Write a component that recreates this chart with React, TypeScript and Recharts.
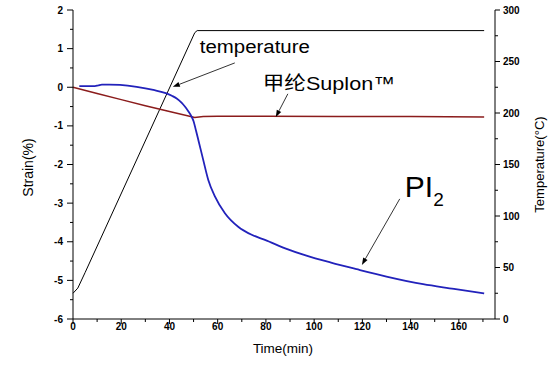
import {
  ComposedChart,
  Line,
  XAxis,
  YAxis,
  ReferenceLine,
  ReferenceDot,
} from "recharts";

// PI2 strain curve (left axis)
const pi2Time = [2.6, 9.1, 10.5, 12, 15, 19.5, 26.4, 33.3, 38.8, 41, 43, 45, 46.4, 47.8, 49, 50, 51, 52, 54, 56.1, 58.9, 63, 68.5, 74.1, 79.6, 88, 96.8, 107, 117.6, 130, 145.2, 158, 170.5];
const pi2Strain = [0.03, 0.03, 0.05, 0.07, 0.07, 0.06, 0.01, -0.07, -0.16, -0.22, -0.29, -0.4, -0.5, -0.62, -0.74, -0.88, -1.12, -1.37, -1.88, -2.4, -2.83, -3.26, -3.61, -3.82, -3.95, -4.17, -4.36, -4.54, -4.71, -4.9, -5.1, -5.22, -5.34];

// Suplon strain curve (left axis)
const suplonTime = [0, 10, 20, 30, 40, 50.5, 54, 60, 80, 110, 140, 170.5];
const suplonStrain = [0, -0.16, -0.32, -0.48, -0.63, -0.78, -0.76, -0.75, -0.75, -0.76, -0.76, -0.77];

// temperature program (right axis)
const tempTime = [0, 2, 5, 50.5, 51.5, 170.5];
const tempValue = [25, 30, 45, 278, 280, 280];

const xTicks = [0, 10, 20, 30, 40, 50, 60, 70, 80, 90, 100, 110, 120, 130, 140, 150, 160, 170];
const strainTicks = [-6, -5.5, -5, -4.5, -4, -3.5, -3, -2.5, -2, -1.5, -1, -0.5, 0, 0.5, 1, 1.5, 2];
const tempTicks = [0, 25, 50, 75, 100, 125, 150, 175, 200, 225, 250, 275, 300];

const pi2Data = pi2Time.map((t, i) => ({ t, s: pi2Strain[i] }));
const suplonData = suplonTime.map((t, i) => ({ t, s: suplonStrain[i] }));
const tempData = tempTime.map((t, i) => ({ t, temp: tempValue[i] }));

const FONT = "'Liberation Sans', Arial, 'Noto Sans CJK SC', sans-serif";

function LeftTick({ x, y, payload }: any) {
  const major = Number.isInteger(payload.value);
  return (
    <g>
      <line x1={x - (major ? 6 : 3)} x2={x} y1={y} y2={y} stroke="#000" />
      {major && (
        <text x={x - 10} y={y + 3.5} textAnchor="end" fontSize={10} fontWeight="bold" fontFamily={FONT}>
          {payload.value}
        </text>
      )}
    </g>
  );
}

function RightTick({ x, y, payload }: any) {
  const major = payload.value % 50 === 0;
  return (
    <g>
      <line x1={x} x2={x + (major ? 5 : 3)} y1={y} y2={y} stroke="#000" />
      {major && (
        <text x={x + 8} y={y + 3.5} textAnchor="start" fontSize={10} fontWeight="bold" fontFamily={FONT}>
          {payload.value}
        </text>
      )}
    </g>
  );
}

function BottomTick({ x, y, payload }: any) {
  const major = payload.value % 20 === 0;
  return (
    <g>
      <line x1={x} x2={x} y1={y} y2={y + (major ? 5 : 3)} stroke="#000" />
      {major && (
        <text x={x} y={y + 11} textAnchor="middle" fontSize={10} fontWeight="bold" fontFamily={FONT}>
          {payload.value}
        </text>
      )}
    </g>
  );
}

function Arrow(props: any) {
  const { x1, y1, x2, y2 } = props;
  const a = Math.atan2(y2 - y1, x2 - x1);
  const len = 7;
  const w = 2.5;
  const bx = x2 - len * Math.cos(a);
  const by = y2 - len * Math.sin(a);
  const px = -Math.sin(a) * w;
  const py = Math.cos(a) * w;
  return (
    <g>
      <line x1={x1} y1={y1} x2={bx} y2={by} stroke="#000" strokeWidth={0.8} />
      <polygon points={`${x2},${y2} ${bx + px},${by + py} ${bx - px},${by - py}`} fill="#000" />
    </g>
  );
}

const textAt = (content: any) => (p: any) => (
  <text x={p.cx} y={p.cy} fontFamily={FONT} fill="#000">
    {content}
  </text>
);

export default function App() {
  return (
    <div style={{ position: "absolute", left: 0, top: 0, width: 549, height: 365, background: "#fff" }}>
      <ComposedChart width={549} height={365} margin={{ top: 10, right: 0, bottom: 0, left: 0 }}>
        <XAxis
          type="number"
          dataKey="t"
          domain={[0, 175]}
          ticks={xTicks}
          interval={0}
          tickSize={0}
          tickMargin={0}
          tick={<BottomTick />}
          tickLine={false}
          axisLine={{ stroke: "#000" }}
          height={46}
          label={{
            content: () => (
              <text x={283} y={353} textAnchor="middle" fontSize={13.5} fontFamily={FONT}>
                Time(min)
              </text>
            ),
          }}
        />
        <XAxis xAxisId="top" orientation="top" type="number" domain={[0, 175]} height={0} tick={false} tickLine={false} axisLine={{ stroke: "#000" }} />
        <YAxis
          yAxisId="left"
          type="number"
          domain={[-6, 2]}
          ticks={strainTicks}
          interval={0}
          tickSize={0}
          tickMargin={0}
          tick={<LeftTick />}
          tickLine={false}
          axisLine={{ stroke: "#000" }}
          width={73}
          label={{
            content: (p: any) => {
              const cy = p.viewBox.y + p.viewBox.height / 2 + 3;
              return (
                <text x={33} y={cy} transform={`rotate(-90 33 ${cy})`} textAnchor="middle" fontSize={14} fontFamily={FONT}>
                  Strain(%)
                </text>
              );
            },
          }}
        />
        <YAxis
          yAxisId="right"
          orientation="right"
          type="number"
          domain={[0, 300]}
          ticks={tempTicks}
          interval={0}
          tickSize={0}
          tickMargin={0}
          tick={<RightTick />}
          tickLine={false}
          axisLine={{ stroke: "#000" }}
          width={54}
          label={{
            content: (p: any) => {
              const cy = p.viewBox.y + p.viewBox.height / 2;
              return (
                <text x={544} y={cy} transform={`rotate(-90 544 ${cy})`} textAnchor="middle" fontSize={13} fontFamily={FONT}>
                  Temperature(°C)
                </text>
              );
            },
          }}
        />
        <Line yAxisId="right" data={tempData} dataKey="temp" type="linear" stroke="#000" strokeWidth={1} dot={false} isAnimationActive={false} />
        <Line yAxisId="left" data={suplonData} dataKey="s" type="linear" stroke="#8b1c1c" strokeWidth={1.5} dot={false} isAnimationActive={false} />
        <Line yAxisId="left" data={pi2Data} dataKey="s" type="monotone" stroke="#2222bb" strokeWidth={1.8} dot={false} isAnimationActive={false} />

        <ReferenceLine yAxisId="left" segment={[{ x: 67.1, y: 0.63 }, { x: 41.4, y: 0.01 }]} shape={<Arrow />} />
        <ReferenceLine yAxisId="left" segment={[{ x: 89.1, y: -0.17 }, { x: 84.1, y: -0.77 }]} shape={<Arrow />} />
        <ReferenceLine yAxisId="left" segment={[{ x: 135.5, y: -2.89 }, { x: 119.8, y: -4.6 }]} shape={<Arrow />} />

        <ReferenceDot
          yAxisId="left"
          x={52.6}
          y={0.887}
          r={0}
          shape={textAt(<tspan fontSize={18} textLength={110} lengthAdjust="spacingAndGlyphs">temperature</tspan>)}
        />
        <ReferenceDot
          yAxisId="left"
          x={78.7}
          y={-0.071}
          r={0}
          shape={textAt(<tspan fontSize={19} textLength={132} lengthAdjust="spacingAndGlyphs">甲纶Suplon™</tspan>)}
        />
        <ReferenceDot
          yAxisId="left"
          x={137.6}
          y={-2.84}
          r={0}
          shape={textAt(
            <>
              <tspan fontSize={30}>PI</tspan>
              <tspan fontSize={19} dy={9}>2</tspan>
            </>
          )}
        />
      </ComposedChart>
    </div>
  );
}
